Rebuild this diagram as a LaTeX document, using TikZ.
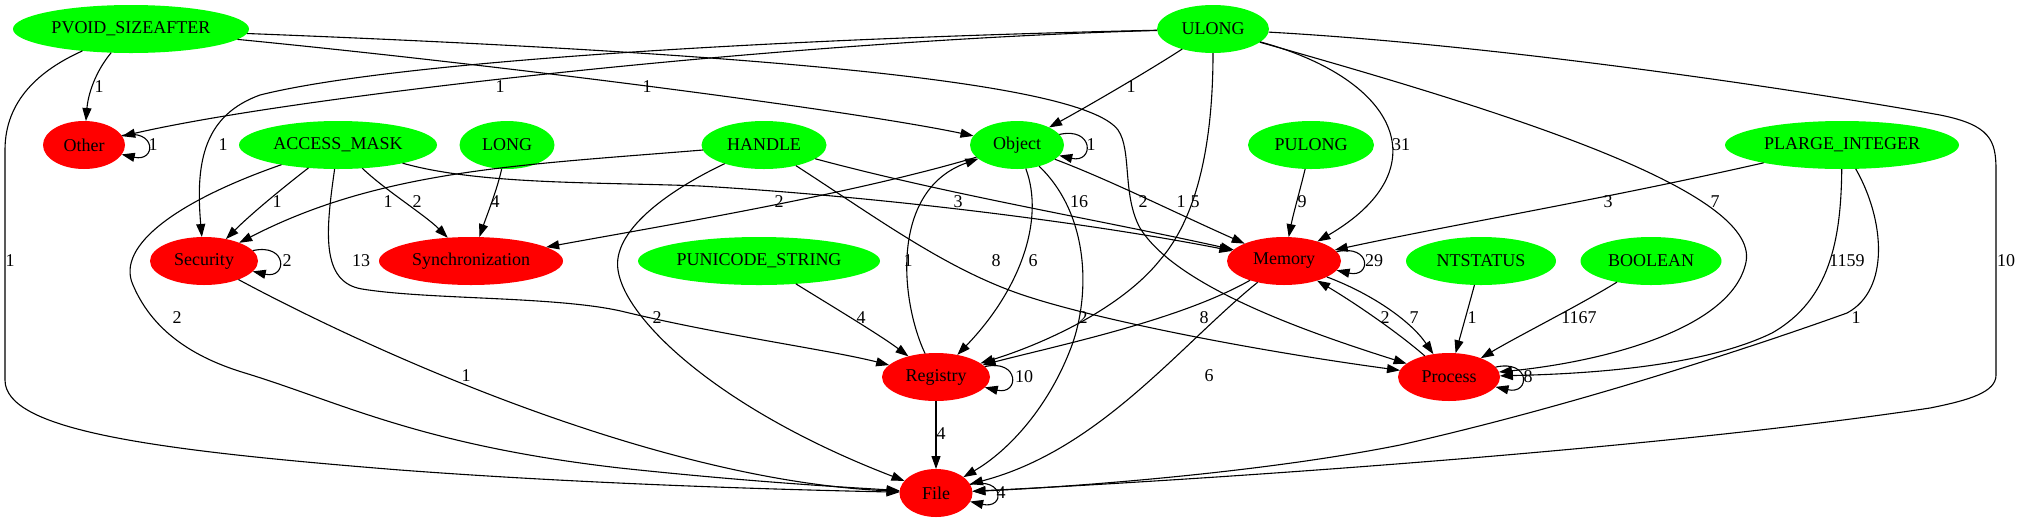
\documentclass[tikz,border=0pt]{standalone}
\usepackage{fontspec}
\setmainfont{Liberation Serif}
\usetikzlibrary{shapes.geometric,arrows.meta}
\begin{document}
\begin{tikzpicture}[x=1pt,y=-1pt,
  gnode/.style={ellipse,fill=green,draw=none,inner sep=0pt,outer sep=0pt,minimum height=48pt,font=\fontsize{18}{20}\selectfont},
  rnode/.style={gnode,fill=red},
  conn/.style={draw=black,line width=1.1pt,-{Triangle[length=13pt,width=9pt]}},
  lbl/.style={inner sep=0pt,font=\fontsize{18}{20}\selectfont}]
\useasboundingbox (0,0) rectangle (2020,523);
% nodes
\node[gnode,minimum width=236pt] (pvoid) at (131,29) {PVOID\_SIZEAFTER};
\node[gnode,minimum width=112pt] (ulong) at (1213,29) {ULONG};
\node[rnode,minimum width=82pt] (other) at (84,145) {Other};
\node[gnode,minimum width=198pt] (access) at (338,145) {ACCESS\_MASK};
\node[gnode,minimum width=95pt] (long) at (507,145) {LONG};
\node[gnode,minimum width=125pt] (handle) at (764,145) {HANDLE};
\node[gnode,minimum width=94pt] (object) at (1017,145) {Object};
\node[gnode,minimum width=126pt] (pulong) at (1311,145) {PULONG};
\node[gnode,minimum width=234pt] (plarge) at (1842,145) {PLARGE\_INTEGER};
\node[rnode,minimum width=108pt] (security) at (204,261) {Security};
\node[rnode,minimum width=184pt] (sync) at (471,261) {Synchronization};
\node[gnode,minimum width=242pt] (punicode) at (759,261) {PUNICODE\_STRING};
\node[rnode,minimum width=114pt] (memory) at (1284,261) {Memory};
\node[gnode,minimum width=150pt] (ntstatus) at (1481,261) {NTSTATUS};
\node[gnode,minimum width=141pt] (boolean) at (1651,261) {BOOLEAN};
\node[rnode,minimum width=108pt] (registry) at (936,377) {Registry};
\node[rnode,minimum width=102pt] (process) at (1449,377) {Process};
\node[rnode,minimum width=73pt] (file) at (936,493) {File};
% edges from PVOID_SIZEAFTER
\draw[conn] (pvoid) .. controls (95,72) and (88,95) .. (other);
\draw[conn] (pvoid) .. controls (40,70) and (5,100) .. (5,150) -- (5,380) .. controls (5,430) and (150,450) .. (400,470) .. controls (600,485) and (800,490) .. (file);
\draw[conn] (pvoid) .. controls (500,65) and (850,110) .. (object);
\draw[conn] (pvoid) .. controls (800,55) and (1085,85) .. (1118,130) .. controls (1132,150) and (1122,195) .. (1140,228) .. controls (1175,285) and (1300,330) .. (process);
% edges from ULONG
\draw[conn] (ulong) .. controls (800,40) and (300,95) .. (other);
\draw[conn] (ulong) .. controls (800,38) and (400,60) .. (260,95) .. controls (205,115) and (195,160) .. (security);
\draw[conn] (ulong) .. controls (1150,70) and (1090,105) .. (object);
\draw[conn] (ulong) .. controls (1213,150) and (1195,220) .. (1160,260) .. controls (1120,310) and (1040,345) .. (registry);
\draw[conn] (ulong) .. controls (1400,80) and (1440,170) .. (memory);
\draw[conn] (ulong) .. controls (1500,110) and (1760,190) .. (1746,262) .. controls (1732,330) and (1600,362) .. (process);
\draw[conn] (ulong) .. controls (1500,45) and (1800,90) .. (1940,115) .. controls (1990,125) and (1996,140) .. (1996,170) -- (1996,375) .. controls (1996,392) and (1970,400) .. (1930,408) .. controls (1650,450) and (1200,480) .. (file);
% edges from ACCESS_MASK
\draw[conn] (access) .. controls (280,190) and (250,215) .. (security);
\draw[conn] (access) .. controls (385,190) and (425,215) .. (sync);
\draw[conn] (access) .. controls (480,185) and (600,182) .. (700,186) .. controls (900,198) and (1100,225) .. (memory);
\draw[conn] (access) .. controls (326,230) and (320,282) .. (362,289) .. controls (430,300) and (560,296) .. (625,312) .. controls (720,335) and (830,350) .. (registry);
\draw[conn] (access) .. controls (180,200) and (115,245) .. (133,285) .. controls (150,325) and (185,355) .. (245,373) .. controls (340,402) and (420,445) .. (620,468) .. controls (760,483) and (860,488) .. (file);
% LONG
\draw[conn] (long) .. controls (497,190) and (487,215) .. (sync);
% HANDLE
\draw[conn] (handle) .. controls (520,165) and (380,170) .. (security);
\draw[conn] (handle) .. controls (950,195) and (1100,220) .. (memory);
\draw[conn] (handle) .. controls (880,220) and (950,272) .. (1029,297) .. controls (1100,320) and (1250,350) .. (process);
\draw[conn] (handle) .. controls (665,192) and (612,232) .. (618,270) .. controls (625,320) and (720,410) .. (file);
% Object
\draw[conn] (object.14) .. controls +(35,-8) and +(35,8) .. (object.-14);
\draw[conn] (object) .. controls (850,195) and (650,228) .. (sync);
\draw[conn] (object) .. controls (1045,220) and (1020,290) .. (registry);
\draw[conn] (object) .. controls (1090,215) and (1090,295) .. (1072,345) .. controls (1050,405) and (1010,450) .. (file);
\draw[conn] (object) .. controls (1110,180) and (1180,215) .. (memory);
% PULONG, PLARGE_INTEGER
\draw[conn] (pulong) .. controls (1300,190) and (1293,215) .. (memory);
\draw[conn] (plarge) .. controls (1600,200) and (1450,225) .. (memory);
\draw[conn] (plarge) .. controls (1841,240) and (1830,300) .. (1772,333) .. controls (1700,368) and (1580,374) .. (process);
\draw[conn] (plarge) .. controls (1885,220) and (1890,290) .. (1847,313) .. controls (1800,330) and (1600,400) .. (1400,445) .. controls (1250,475) and (1050,488) .. (file);
% rank 2 sources
\draw[conn] (punicode) .. controls (830,305) and (880,335) .. (registry);
\draw[conn] (ntstatus) .. controls (1469,305) and (1462,330) .. (process);
\draw[conn] (boolean) .. controls (1580,305) and (1520,335) .. (process);
% red nodes
\draw[conn] (other.14) .. controls +(35,-8) and +(35,8) .. (other.-14);
\draw[conn] (security.12) .. controls +(35,-8) and +(35,8) .. (security.-12);
\draw[conn] (security) .. controls (360,345) and (650,480) .. (file);
\draw[conn] (memory.10) .. controls +(35,-8) and +(35,8) .. (memory.-10);
\draw[conn] (memory) .. controls (1180,320) and (1060,345) .. (registry);
\draw[conn] (memory) .. controls (1370,293) and (1410,320) .. (process);
\draw[conn] (memory) .. controls (1180,345) and (1100,450) .. (file);
\draw[conn] (process) .. controls (1395,330) and (1350,300) .. (memory);
\draw[conn] (process.12) .. controls +(35,-8) and +(35,8) .. (process.-12);
\draw[conn] (registry.12) .. controls +(35,-8) and +(35,8) .. (registry.-12);
\draw[conn] (registry) .. controls (900,300) and (890,190) .. (object);
\draw[conn] (registry) -- (file);
\draw[conn] (file.14) .. controls +(35,-8) and +(35,8) .. (file.-14);
% labels
\node[lbl] (t01) at (99,87) {1};
\node[lbl] (t02) at (153,145) {1};
\node[lbl] (t03) at (500,87) {1};
\node[lbl] (t04) at (647,87) {1};
\node[lbl] (t05) at (1131,87) {1};
\node[lbl] (t06) at (1401,145) {31};
\node[lbl] (t07) at (223,145) {1};
\node[lbl] (t08) at (1091,145) {1};
\node[lbl] (t09) at (277,202) {1};
\node[lbl] (t10) at (417,202) {2};
\node[lbl] (t11) at (388,202) {1};
\node[lbl] (t12) at (495,202) {4};
\node[lbl] (t13) at (779,202) {2};
\node[lbl] (t14) at (958,202) {3};
\node[lbl] (t15) at (1079,202) {16};
\node[lbl] (t16) at (1143,202) {2};
\node[lbl] (t17) at (1181,202) {1};
\node[lbl] (t18) at (1195,202) {5};
\node[lbl] (t19) at (1302,202) {9};
\node[lbl] (t20) at (1608,202) {3};
\node[lbl] (t21) at (1715,202) {7};
\node[lbl] (t22) at (10,261) {1};
\node[lbl] (t23) at (287,261) {2};
\node[lbl] (t24) at (361,261) {13};
\node[lbl] (t25) at (996,261) {8};
\node[lbl] (t26) at (1033,261) {6};
\node[lbl] (t27) at (908,261) {1};
\node[lbl] (t28) at (1374,261) {29};
\node[lbl] (t29) at (1847,261) {1159};
\node[lbl] (t30) at (2006,261) {10};
\node[lbl] (t31) at (177,318) {2};
\node[lbl] (t32) at (861,318) {4};
\node[lbl] (t33) at (657,318) {2};
\node[lbl] (t34) at (1083,318) {2};
\node[lbl] (t35) at (1204,318) {8};
\node[lbl] (t36) at (1385,318) {2};
\node[lbl] (t37) at (1414,318) {7};
\node[lbl] (t38) at (1472,318) {1};
\node[lbl] (t39) at (1579,318) {1167};
\node[lbl] (t40) at (1856,318) {1};
\node[lbl] (t41) at (466,376) {1};
\node[lbl] (t42) at (1209,376) {6};
\node[lbl] (t43) at (1024,377) {10};
\node[lbl] (t44) at (1528,377) {8};
\node[lbl] (t45) at (941,434) {4};
\node[lbl] (t46) at (1001,493) {4};
\end{tikzpicture}
\end{document}
